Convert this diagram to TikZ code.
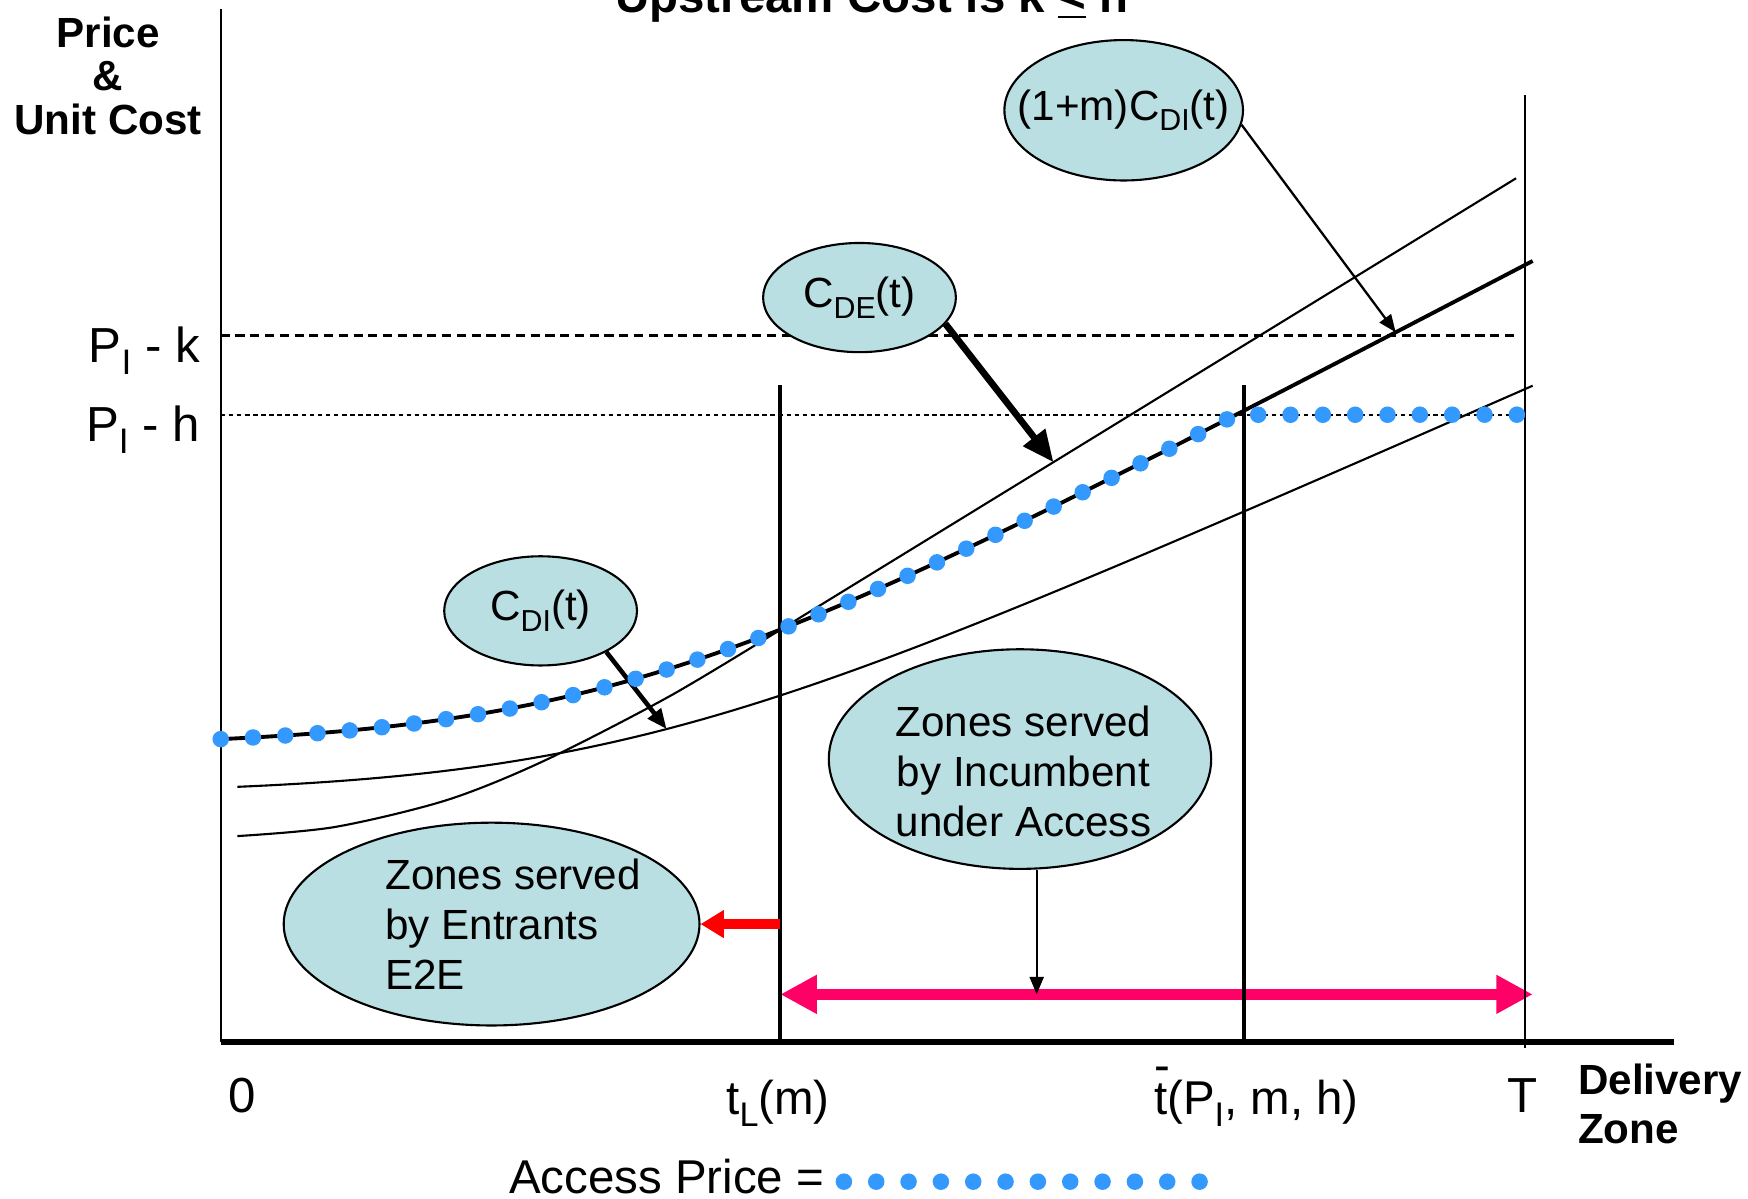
\documentclass[tikz,border=0pt]{standalone}
\usepackage{fontspec}
\setmainfont{Liberation Sans}
\usepackage{xcolor}
\usepackage{graphicx}
\usetikzlibrary{shapes.geometric, arrows.meta, positioning}

\definecolor{bubblefill}{RGB}{185,223,226}
\definecolor{accessblue}{RGB}{51,153,255}
\definecolor{zonepink}{RGB}{255,0,102}

\newcommand{\lowidx}[1]{\raisebox{-0.25em}{\scalebox{0.72}{#1}}}

\begin{document}
\begin{tikzpicture}[
  bubble/.style={ellipse, draw, fill=bubblefill, line width=0.6pt, inner sep=-0.5cm,
    font=\fontsize{12}{14.2}\selectfont},
  bubbletext/.style={font=\fontsize{12}{14.2}\selectfont, inner sep=0pt},
  axislabel/.style={font=\fontsize{14}{16}\selectfont, inner sep=0pt},
  ticklabel/.style={font=\fontsize{13.5}{16}\selectfont, inner sep=0pt},
  headlabel/.style={font=\fontsize{12}{12.4}\selectfont\bfseries, inner sep=0pt, align=center},
  costline/.style={line width=0.6pt},
  bound/.style={line width=1.1pt},
  pointer/.style={line width=0.65pt, -{Triangle[length=5pt, width=4pt]}},
  access/.style={accessblue, line width=4.7pt, line cap=round, dash pattern=on 0pt off 9.2pt},
  declare function={cdi(\x)=2.48+0.726*ln(1+exp((\x-3.84)/1.65));}
]
\useasboundingbox (-2.207,-1.561) rectangle (15.273,10.423);

\node[font=\fontsize{13.5}{16}\selectfont\bfseries, anchor=base, inner sep=0pt] (title) at (6.51,10.30) {Upstream Cost is k \underline{<} h};

% axes
\draw[line width=0.6pt] (0,0) -- (0,10.334);
\draw[line width=1.7pt] (0,0) -- (14.537,0);
\node[headlabel] (ylabel) at (-1.126,9.666) {Price\\\&\\Unit Cost};
\node[headlabel, align=left, anchor=west, font=\fontsize{12}{14}\selectfont\bfseries] (xlabel) at (13.567,-0.613) {Delivery\\Zone};

% price levels
\draw[line width=0.7pt, dash pattern=on 2.6pt off 1.6pt] (0,7.068) -- (12.976,7.068);
\draw[line width=0.6pt, dash pattern=on 1.3pt off 1pt] (0,6.276) -- (12.976,6.276);
\node[axislabel, anchor=base east] (pk) at (-0.201,6.800) {P\lowidx{I} - k};
\node[axislabel, anchor=base east] (ph) at (-0.201,6.009) {P\lowidx{I} - h};

% cost curves
\draw[costline] plot[domain=0.167:13.121, samples=90] (\x, {cdi(\x)});
\draw[line width=1.1pt] plot[domain=0:13.121, samples=90] (\x, {1.19*cdi(\x)});
\draw[costline] plot[smooth] coordinates {(0.167,2.062) (1.137,2.152) (2.252,2.419)
  (3.222,2.809) (4.481,3.456) (5.596,4.125)} -- (12.954,8.640);

% zones
\coordinate (tlfoot) at (5.596,0);
\coordinate (tbfoot) at (10.234,0);
\coordinate (tfoot) at (13.043,-0.056);
\coordinate (zonemid) at (8.160,0.479);
\coordinate (zoneend) at (13.121,0.479);
\draw[line width=3.3pt, zonepink, {Triangle[length=10.4pt, width=10.4pt]}-{Triangle[length=10.4pt, width=10.4pt]}]
  (tlfoot |- zonemid) -- (zoneend);
\draw[bound] (tlfoot) -- ++(0,6.577);
\draw[bound] (tbfoot) -- ++(0,6.577);
\draw[line width=0.6pt] (tfoot) -- ++(0,9.532);

\node[axislabel, anchor=base] (zero) at (0.212,-0.702) {0};
\node[ticklabel, anchor=base] (tl) at (5.574,-0.725) {t\lowidx{L}(m)};
\node[ticklabel, anchor=base] (tbar) at (10.357,-0.725) {\rlap{\raisebox{0.7em}{-}}t(P\lowidx{I}, m, h)};
\node[axislabel, anchor=base] (tend) at (13.021,-0.702) {T};

% labels
\node[bubble, minimum width=2.386cm, minimum height=1.404cm] (mcdi) at (9.030,9.320) {(1+m)C\lowidx{DI}(t)};
\node[bubble, minimum width=1.928cm, minimum height=1.092cm] (cde) at (6.388,7.447) {C\lowidx{DE}(t)};
\node[bubble, minimum width=1.928cm, minimum height=1.092cm] (cdi) at (3.199,4.314) {C\lowidx{DI}(t)};
\node[bubble, minimum width=3.824cm, minimum height=2.196cm] (inc) at (7.993,2.832) {};
\node[bubbletext, align=center] (incnote) at (8.027,2.709) {Zones served\\by Incumbent\\under Access};
\node[bubble, minimum width=4.158cm, minimum height=2.028cm] (ent) at (2.709,1.182) {};
\node[bubbletext, align=left, anchor=west] (entnote) at (1.639,1.182) {Zones served\\by Entrants\\E2E};

\coordinate (mcditip) at (11.75,{1.19*cdi(11.75)});
\coordinate (cdetip) at (8.328,5.80);
\coordinate (cditip) at (4.459,{cdi(4.459)});
\draw[pointer] (mcdi.-7) -- (mcditip);
\draw[line width=1.9pt, -{Triangle[length=9pt, width=7.6pt]}] (cde.-17) -- (cdetip);
\draw[line width=1.3pt, -{Triangle[length=5.7pt, width=4.6pt]}] (cdi.-32) -- (cditip);
\draw[pointer] (inc.south -| zonemid) -- (zonemid);
\draw[line width=2.8pt, red, -{Triangle[length=6.6pt, width=7.5pt]}] (tlfoot |- ent.east) -- (ent.east);

% access price
\draw[access] plot[domain=0:10.153, samples=60] (\x, {1.19*cdi(\x)}) -- (12.976,6.276);
\node[ticklabel, anchor=base east] (accesslbl) at (6.042,-1.516) {Access Price =};
\draw[access] (6.232,-1.394) -- (9.80,-1.394);

\end{tikzpicture}
\end{document}
